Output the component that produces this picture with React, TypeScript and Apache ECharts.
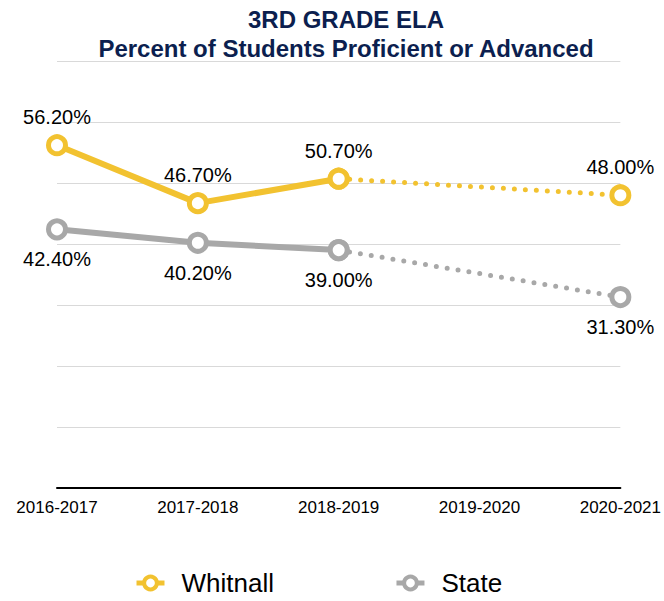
import React, { useEffect, useRef } from "react";
import * as echarts from "echarts";

const categories = ["2016-2017", "2017-2018", "2018-2019", "2019-2020", "2020-2021"];
const whitnallActual = [56.2, 46.7, 50.7, null, null];
const whitnallProjected = [null, null, 50.7, null, 48.0];
const stateActual = [42.4, 40.2, 39.0, null, null];
const stateProjected = [null, null, 39.0, null, 31.3];
const titleLines = ["3RD GRADE ELA", "Percent of Students Proficient or Advanced"];

const YELLOW = "#f2c230";
const GRAY = "#a8a8a8";
const FONT = "'Liberation Sans', Arial, Helvetica, sans-serif";

const fmt = (p: any) => (p.value == null ? "" : Number(p.value).toFixed(2) + "%");

export default function App() {
  const ref = useRef<HTMLDivElement>(null);
  useEffect(() => {
    const chart = echarts.init(ref.current!, null, { renderer: "svg" });
    const marker = (color: string) => ({
      symbol: "circle",
      symbolSize: 17,
      itemStyle: { color: "#ffffff", borderColor: color, borderWidth: 5 },
    });
    const labelBase = { color: "#000", fontSize: 20, fontFamily: FONT };
    chart.setOption({
      animation: false,
      textStyle: { fontFamily: FONT },
      title: {
        text: titleLines.join("\n"),
        left: 341,
        textAlign: "center",
        top: 0,
        textStyle: { fontFamily: FONT, fontSize: 24, fontWeight: "bold", color: "#0c1f4f", lineHeight: 29 },
      },
      grid: { left: 57, right: 39, top: 61, bottom: 113 },
      legend: {
        data: ["Whitnall", "State"],
        top: 565,
        left: 129,
        itemGap: 120,
        itemWidth: 28,
        itemHeight: 16,
        itemStyle: { borderWidth: 4 },
        lineStyle: { width: 5 },
        textStyle: { fontFamily: FONT, fontSize: 26, color: "#000", padding: [0, 0, 0, 12] },
      },
      xAxis: {
        type: "category",
        data: categories,
        boundaryGap: false,
        axisLine: { lineStyle: { color: "#000", width: 2 } },
        axisTick: { show: false },
        axisLabel: { color: "#000", fontSize: 17, margin: 11, fontFamily: FONT },
      },
      yAxis: {
        type: "value",
        min: 0,
        max: 70,
        interval: 10,
        axisLabel: { show: false },
        axisLine: { show: false },
        axisTick: { show: false },
        splitLine: { lineStyle: { color: "#d9d9d9", width: 1 } },
      },
      series: [
        {
          name: "Whitnall",
          type: "line",
          data: whitnallActual,
          color: YELLOW,
          lineStyle: { color: YELLOW, width: 6 },
          ...marker(YELLOW),
          z: 4,
          label: { show: true, position: "top", distance: 7, formatter: fmt, ...labelBase },
        },
        {
          name: "WhitnallProj",
          type: "line",
          data: whitnallProjected,
          connectNulls: true,
          color: YELLOW,
          lineStyle: { color: YELLOW, width: 5, type: [0, 11], cap: "round" },
          ...marker(YELLOW),
          z: 3,
          label: {
            show: true,
            position: "top",
            distance: 7,
            formatter: (p: any) => (p.dataIndex === 4 ? fmt(p) : ""),
            ...labelBase,
          },
        },
        {
          name: "State",
          type: "line",
          data: stateActual,
          color: GRAY,
          lineStyle: { color: GRAY, width: 6 },
          ...marker(GRAY),
          z: 4,
          label: { show: true, position: "bottom", distance: 9, formatter: fmt, ...labelBase },
        },
        {
          name: "StateProj",
          type: "line",
          data: stateProjected,
          connectNulls: true,
          color: GRAY,
          lineStyle: { color: GRAY, width: 5, type: [0, 11], cap: "round" },
          ...marker(GRAY),
          z: 3,
          label: {
            show: true,
            position: "bottom",
            distance: 9,
            formatter: (p: any) => (p.dataIndex === 4 ? fmt(p) : ""),
            ...labelBase,
          },
        },
      ],
    });
    return () => chart.dispose();
  }, []);
  return <div ref={ref} style={{ width: 664, height: 601, position: "absolute", left: 0, top: 0, background: "#fff" }} />;
}
